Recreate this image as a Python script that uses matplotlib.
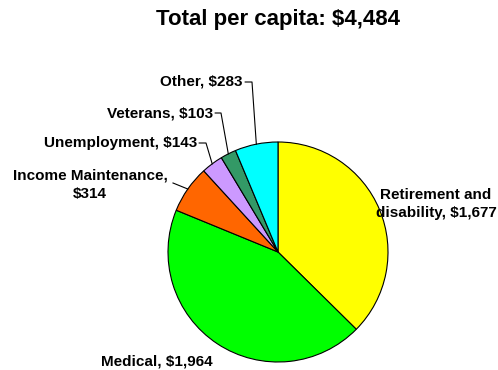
import numpy as np
import matplotlib
matplotlib.use("Agg")
from matplotlib import pyplot as plt

plt.rcParams["font.family"] = ["Liberation Sans", "DejaVu Sans"]

categories = ["Retirement and\ndisability", "Medical", "Income Maintenance,\n",
              "Unemployment", "Veterans", "Other"]
values = [1677, 1964, 314, 143, 103, 283]
colors = ["#FFFF00", "#00FF00", "#FF6600", "#CC99FF", "#339966", "#00FFFF"]
title = "Total per capita: $4,484"

W, H = 498, 370
CX, CY, R = 278, 252, 110  # pie centre and radius in pixels (from top-left)


def px(x, y):
    '''Convert pixel position (top-left origin) to pie data coordinates.'''
    return (x - CX) / R, (CY - y) / R


fig = plt.figure(figsize=(W / 100, H / 100), dpi=100)
ax = fig.add_axes([(CX - R) / W, (H - CY - R) / H, 2 * R / W, 2 * R / H])
wedges, _ = ax.pie(values, colors=colors, startangle=90, counterclock=False,
                   radius=1.0, wedgeprops=dict(edgecolor="black", linewidth=0.8))
ax.set_xlim(-1, 1)
ax.set_ylim(-1, 1)
ax.set_aspect("equal")
ax.axis("off")


def label_text(i):
    name = categories[i]
    money = f"${values[i]:,}"
    if name.endswith("\n"):
        return name + money
    return f"{name}, {money}"


fs = 11
# labels with leader lines: (text anchor, elbow) in pixels
leaders = {
    5: ((243, 82), (252, 82), "right"),
    4: ((213, 113), (221, 113), "right"),
    3: ((197, 143), (206, 143), "right"),
}
for i, (anchor, elbow, ha) in leaders.items():
    w = wedges[i]
    mid = np.deg2rad((w.theta1 + w.theta2) / 2)
    edge = (np.cos(mid), np.sin(mid))
    ax_, ay_ = px(*anchor)
    ex_, ey_ = px(*elbow)
    ax.text(ax_, ay_, label_text(i), ha=ha, va="center", fontsize=fs,
            fontweight="bold", clip_on=False)
    ax.plot([ax_ + 0.02, ex_, edge[0]], [ay_, ey_, edge[1]], color="black",
            linewidth=0.8, clip_on=False)

# Income maintenance: two-line label, short slanted leader
w = wedges[2]
mid = np.deg2rad((w.theta1 + w.theta2) / 2)
tx, ty = px(90, 185)
ax.text(tx, ty, label_text(2), ha="center", va="center", fontsize=fs,
        fontweight="bold", linespacing=1.45, clip_on=False)
lx, ly = px(173, 183)
ax.plot([lx, np.cos(mid)], [ly, np.sin(mid)], color="black", linewidth=0.8,
        clip_on=False)

# Medical and Retirement labels without leaders
tx, ty = px(157, 361)
ax.text(tx, ty, label_text(1), ha="center", va="center", fontsize=fs,
        fontweight="bold", clip_on=False)
tx, ty = px(436, 204)
ax.text(tx, ty, label_text(0), ha="center", va="center", fontsize=fs,
        fontweight="bold", linespacing=1.45, clip_on=False)

fig.text(278.5 / W, 1 - 19 / H, title, ha="center", va="center", fontsize=16,
         fontweight="bold")

fig.savefig("out.png", dpi=100)
